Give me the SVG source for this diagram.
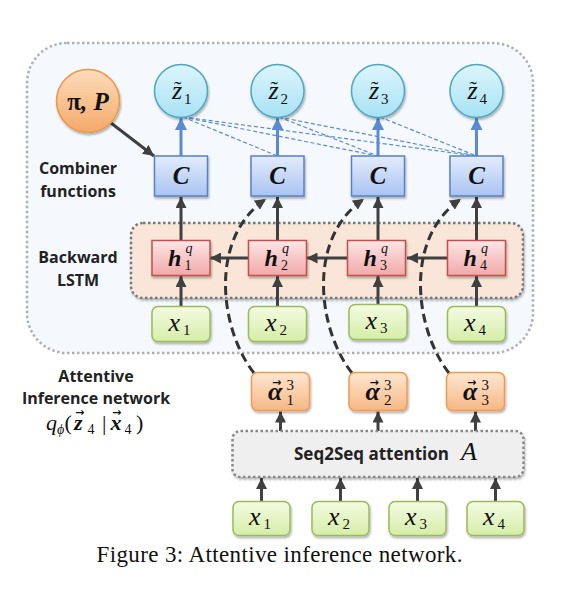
<svg xmlns="http://www.w3.org/2000/svg" width="574" height="592" viewBox="0 0 574 592">
<defs>
<linearGradient id="gz" x1="0" y1="0" x2="0" y2="1"><stop offset="0" stop-color="#dcf5fc"/><stop offset="1" stop-color="#a8e2f4"/></linearGradient>
<linearGradient id="gc" x1="0" y1="0" x2="0" y2="1"><stop offset="0" stop-color="#e3ecfc"/><stop offset="1" stop-color="#a9c3f2"/></linearGradient>
<linearGradient id="gh" x1="0" y1="0" x2="0" y2="1"><stop offset="0" stop-color="#fde6e6"/><stop offset="1" stop-color="#f2a8a8"/></linearGradient>
<linearGradient id="gx" x1="0" y1="0" x2="0" y2="1"><stop offset="0" stop-color="#f4fbe2"/><stop offset="1" stop-color="#d5eda8"/></linearGradient>
<linearGradient id="ga" x1="0" y1="0" x2="0" y2="1"><stop offset="0" stop-color="#fde7d2"/><stop offset="1" stop-color="#f6b784"/></linearGradient>
<linearGradient id="gp" x1="0" y1="0" x2="0" y2="1"><stop offset="0" stop-color="#fcdcbc"/><stop offset="1" stop-color="#f4a968"/></linearGradient>
<filter id="sh" x="-20%" y="-20%" width="150%" height="160%"><feDropShadow dx="1" dy="2" stdDeviation="1.2" flood-color="#000" flood-opacity="0.3"/></filter>
<marker id="ad" viewBox="0 0 10 10" refX="10" refY="5" markerWidth="11" markerHeight="11" markerUnits="userSpaceOnUse" orient="auto"><path d="M0,0 L10,5 L0,10 z" fill="#404040"/></marker>
<marker id="ab" viewBox="0 0 10 10" refX="10" refY="5" markerWidth="12" markerHeight="12" markerUnits="userSpaceOnUse" orient="auto"><path d="M0,0 L10,5 L0,10 z" fill="#5a8bd2"/></marker>
</defs>
<style>
.lbl{font-family:"Open Sans","DejaVu Sans",sans-serif;font-weight:bold;font-size:16px;fill:#222}
.m{font-family:"Liberation Serif","DejaVu Serif",serif;font-style:italic;font-size:26px;fill:#111}
.mb{font-family:"Liberation Serif","DejaVu Serif",serif;font-style:italic;font-weight:bold;font-size:26px;fill:#111}
.s{font-family:"Liberation Serif","DejaVu Serif",serif;font-size:15px;fill:#111}
.si{font-family:"Liberation Serif","DejaVu Serif",serif;font-style:italic;font-size:15px;fill:#111}
.vec{font-family:"DejaVu Sans",sans-serif;font-size:11px;font-weight:bold;fill:#111}
.ti{font-family:"Liberation Serif","DejaVu Serif",serif;font-size:22px;fill:#111}
.zc{fill:url(#gz);stroke:#4ea6c2;stroke-width:1.5}
.cb{fill:url(#gc);stroke:#5a80c4;stroke-width:1.5}
.hb{fill:url(#gh);stroke:#c0504d;stroke-width:1.5}
.xb{fill:url(#gx);stroke:#9bbb59;stroke-width:1.5}
.ab{fill:url(#ga);stroke:#f09a52;stroke-width:1.5}
.dk{stroke:#404040;stroke-width:3;fill:none}
.bl{stroke:#5a8bd2;stroke-width:3;fill:none}
.bd{stroke:#5a8bd2;stroke-width:1.2;stroke-dasharray:4 2.5;fill:none}
.cv{stroke:#333;stroke-width:3;stroke-dasharray:9 5;fill:none}
.C{font-size:25px}
.h{font-size:24px}
.sm{font-size:14px}
.f22{font-size:22px}
</style>
<g id="outer"><rect x="27" y="43" width="506" height="310" rx="40" fill="#f5f9fd" stroke="#b0b0b0" stroke-width="2.5" stroke-dasharray="2.5 2.5"/></g>
<g id="lstm-panel"><rect x="131" y="223" width="392" height="75" rx="12" fill="#f9e6d8" stroke="#777" stroke-width="2.5" stroke-dasharray="2.5 2.5" filter="url(#sh)"/></g>
<g id="labels">
<text class="lbl" x="78" y="174" text-anchor="middle">Combiner</text>
<text class="lbl" x="78" y="197" text-anchor="middle">functions</text>
<text class="lbl" x="78" y="263" text-anchor="middle">Backward</text>
<text class="lbl" x="78" y="286" text-anchor="middle">LSTM</text>
<text class="lbl" x="96" y="382" text-anchor="middle">Attentive</text>
<text class="lbl" x="96" y="404" text-anchor="middle">Inference network</text>
<g id="q-formula">
<text class="m f22" x="46" y="430">q</text>
<text class="si sm" x="57" y="434">ϕ</text>
<text class="ti" x="64.5" y="430">(</text>
<text class="mb f22" x="74" y="430">z</text>
<text class="vec" x="75" y="416">→</text>
<text class="s sm" x="87.5" y="434">4</text>
<text class="ti" x="102" y="430">|</text>
<text class="mb f22" x="110.5" y="430">x</text>
<text class="vec" x="112" y="416">→</text>
<text class="s sm" x="124.5" y="434">4</text>
<text class="ti" x="136" y="430">)</text>
</g>
</g>
<g id="connectors">
<line class="bd" x1="183" y1="117" x2="277.5" y2="156"/>
<line class="bd" x1="183" y1="117" x2="378" y2="156"/>
<line class="bd" x1="183" y1="117" x2="476.5" y2="156"/>
<line class="bd" x1="279" y1="117" x2="378" y2="156"/>
<line class="bd" x1="279" y1="117" x2="476.5" y2="156"/>
<line class="bd" x1="380" y1="117" x2="476.5" y2="156"/>
<line class="bl" x1="181" y1="156" x2="181" y2="118" marker-end="url(#ab)"/>
<line class="bl" x1="277.5" y1="156" x2="277.5" y2="118" marker-end="url(#ab)"/>
<line class="bl" x1="378" y1="156" x2="378" y2="118" marker-end="url(#ab)"/>
<line class="bl" x1="476.5" y1="156" x2="476.5" y2="118" marker-end="url(#ab)"/>
<line class="dk" stroke-width="2" x1="111" y1="123" x2="154" y2="156" marker-end="url(#ad)"/>
<line class="dk" x1="181" y1="240.5" x2="181" y2="197" marker-end="url(#ad)"/>
<line class="dk" x1="277.5" y1="240.5" x2="277.5" y2="197" marker-end="url(#ad)"/>
<line class="dk" x1="378" y1="240.5" x2="378" y2="197" marker-end="url(#ad)"/>
<line class="dk" x1="476.5" y1="240.5" x2="476.5" y2="197" marker-end="url(#ad)"/>
<line class="dk" x1="248.5" y1="258" x2="210" y2="258" marker-end="url(#ad)"/>
<line class="dk" x1="347.5" y1="258" x2="306.5" y2="258" marker-end="url(#ad)"/>
<line class="dk" x1="447.5" y1="258" x2="407" y2="258" marker-end="url(#ad)"/>
<line class="dk" x1="181" y1="306.5" x2="181" y2="276" marker-end="url(#ad)"/>
<line class="dk" x1="277.5" y1="306.5" x2="277.5" y2="276" marker-end="url(#ad)"/>
<line class="dk" x1="378" y1="304.5" x2="378" y2="276" marker-end="url(#ad)"/>
<line class="dk" x1="476.5" y1="306.5" x2="476.5" y2="276" marker-end="url(#ad)"/>
<path class="cv" d="M254,373 C220,330 208,238 266,199" marker-end="url(#ad)"/>
<path class="cv" d="M352,373 C318,330 306,238 364,199" marker-end="url(#ad)"/>
<path class="cv" d="M449,373 C415,330 403,238 461,199" marker-end="url(#ad)"/>
<line class="dk" x1="280.5" y1="431" x2="280.5" y2="411.5" marker-end="url(#ad)"/>
<line class="dk" x1="378" y1="431" x2="378" y2="411.5" marker-end="url(#ad)"/>
<line class="dk" x1="475.5" y1="431" x2="475.5" y2="411.5" marker-end="url(#ad)"/>
<line class="dk" x1="261.5" y1="501.5" x2="261.5" y2="478" marker-end="url(#ad)"/>
<line class="dk" x1="340.5" y1="501.5" x2="340.5" y2="478" marker-end="url(#ad)"/>
<line class="dk" x1="417.5" y1="501.5" x2="417.5" y2="478" marker-end="url(#ad)"/>
<line class="dk" x1="495.5" y1="501.5" x2="495.5" y2="478" marker-end="url(#ad)"/>
</g>
<g id="node-piP"><circle cx="88" cy="101" r="31.5" fill="url(#gp)" stroke="#e9974a" stroke-width="1.5" filter="url(#sh)"/><text class="mb C" x="88" y="110" text-anchor="middle"><tspan font-style="normal">π</tspan>, P</text></g>
<g id="node-z1"><circle class="zc" cx="181" cy="91" r="26.5" filter="url(#sh)"/><text class="m" x="172" y="99">z</text><text class="ti" x="174" y="96">˜</text><text class="s" x="184" y="104">1</text></g>
<g id="node-z2"><circle class="zc" cx="277.5" cy="91" r="26.5" filter="url(#sh)"/><text class="m" x="268.5" y="99">z</text><text class="ti" x="270.5" y="96">˜</text><text class="s" x="280.5" y="104">2</text></g>
<g id="node-z3"><circle class="zc" cx="378" cy="91" r="26.5" filter="url(#sh)"/><text class="m" x="369" y="99">z</text><text class="ti" x="371" y="96">˜</text><text class="s" x="381" y="104">3</text></g>
<g id="node-z4"><circle class="zc" cx="476.5" cy="91" r="26.5" filter="url(#sh)"/><text class="m" x="467.5" y="99">z</text><text class="ti" x="469.5" y="96">˜</text><text class="s" x="479.5" y="104">4</text></g>
<g id="node-C1"><rect class="cb" x="154.5" y="156" width="53" height="40" filter="url(#sh)"/><text class="mb C" x="181" y="184" text-anchor="middle">C</text></g>
<g id="node-C2"><rect class="cb" x="251" y="156" width="53" height="40" filter="url(#sh)"/><text class="mb C" x="277.5" y="184" text-anchor="middle">C</text></g>
<g id="node-C3"><rect class="cb" x="351.5" y="156" width="53" height="40" filter="url(#sh)"/><text class="mb C" x="378" y="184" text-anchor="middle">C</text></g>
<g id="node-C4"><rect class="cb" x="450" y="156" width="53" height="40" filter="url(#sh)"/><text class="mb C" x="476.5" y="184" text-anchor="middle">C</text></g>
<g id="node-h1"><rect class="hb" x="152" y="240.5" width="58" height="35" filter="url(#sh)"/><text class="mb h" x="168" y="266">h</text><text class="si sm" x="185.5" y="253">q</text><text class="s sm" x="184.5" y="270">1</text></g>
<g id="node-h2"><rect class="hb" x="248.5" y="240.5" width="58" height="35" filter="url(#sh)"/><text class="mb h" x="264.5" y="266">h</text><text class="si sm" x="282" y="253">q</text><text class="s sm" x="281" y="270">2</text></g>
<g id="node-h3"><rect class="hb" x="347.5" y="240.5" width="58" height="35" filter="url(#sh)"/><text class="mb h" x="363.5" y="266">h</text><text class="si sm" x="381" y="253">q</text><text class="s sm" x="380" y="270">3</text></g>
<g id="node-h4"><rect class="hb" x="447.5" y="240.5" width="58" height="35" filter="url(#sh)"/><text class="mb h" x="463.5" y="266">h</text><text class="si sm" x="481" y="253">q</text><text class="s sm" x="480" y="270">4</text></g>
<g id="node-x1"><rect class="xb" x="152" y="306.5" width="58" height="35" rx="6" filter="url(#sh)"/><text class="m" x="168.5" y="331">x</text><text class="s" x="183" y="335">1</text></g>
<g id="node-x2"><rect class="xb" x="248.5" y="306.5" width="58" height="35" rx="6" filter="url(#sh)"/><text class="m" x="265" y="331">x</text><text class="s" x="279.5" y="335">2</text></g>
<g id="node-x3"><rect class="xb" x="349" y="304.5" width="58" height="35" rx="6" filter="url(#sh)"/><text class="m" x="365.5" y="329">x</text><text class="s" x="380" y="333">3</text></g>
<g id="node-x4"><rect class="xb" x="447.5" y="306.5" width="58" height="35" rx="6" filter="url(#sh)"/><text class="m" x="464" y="331">x</text><text class="s" x="478.5" y="335">4</text></g>
<g id="node-a1"><rect class="ab" x="251.5" y="372.5" width="58" height="38" rx="6" filter="url(#sh)"/><text class="mb" x="268" y="400">α</text><text class="vec" x="272" y="386">→</text><text class="s" x="286.5" y="390">3</text><text class="s" x="286.5" y="405">1</text></g>
<g id="node-a2"><rect class="ab" x="349" y="372.5" width="58" height="38" rx="6" filter="url(#sh)"/><text class="mb" x="365.5" y="400">α</text><text class="vec" x="369.5" y="386">→</text><text class="s" x="384" y="390">3</text><text class="s" x="384" y="405">2</text></g>
<g id="node-a3"><rect class="ab" x="446.5" y="372.5" width="58" height="38" rx="6" filter="url(#sh)"/><text class="mb" x="463" y="400">α</text><text class="vec" x="467" y="386">→</text><text class="s" x="481.5" y="390">3</text><text class="s" x="481.5" y="405">3</text></g>
<g id="node-seq2seq"><rect x="232.5" y="431" width="291" height="46" rx="8" fill="#efefef" stroke="#888" stroke-width="2.5" stroke-dasharray="2.5 2.5" filter="url(#sh)"/><text class="lbl" x="294" y="460" style="font-size:17px">Seq2Seq attention</text><text class="m" x="461" y="460">A</text></g>
<g id="node-bx1"><rect class="xb" x="233" y="501.5" width="57" height="34" rx="6" filter="url(#sh)"/><text class="m" x="249" y="525">x</text><text class="s" x="263.5" y="529">1</text></g>
<g id="node-bx2"><rect class="xb" x="312" y="501.5" width="57" height="34" rx="6" filter="url(#sh)"/><text class="m" x="328" y="525">x</text><text class="s" x="342.5" y="529">2</text></g>
<g id="node-bx3"><rect class="xb" x="389" y="501.5" width="57" height="34" rx="6" filter="url(#sh)"/><text class="m" x="405" y="525">x</text><text class="s" x="419.5" y="529">3</text></g>
<g id="node-bx4"><rect class="xb" x="467" y="501.5" width="57" height="34" rx="6" filter="url(#sh)"/><text class="m" x="483" y="525">x</text><text class="s" x="497.5" y="529">4</text></g>
<g id="caption"><text x="279.5" y="562" text-anchor="middle" font-family="Liberation Serif, serif" font-size="23" textLength="366" lengthAdjust="spacing" fill="#111">Figure 3: Attentive inference network.</text></g>
</svg>
